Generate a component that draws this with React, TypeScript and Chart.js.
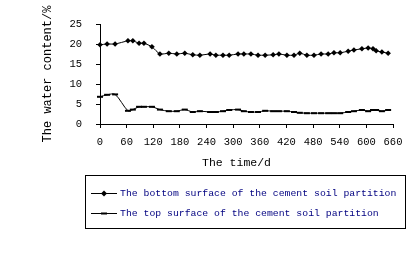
import React, { useEffect, useRef } from "react";
import { Chart, registerables } from "chart.js";

Chart.register(...registerables);

const days = [0, 16, 34, 63, 74, 88, 99, 117, 135, 155, 173, 191, 209, 225, 248, 261, 277, 291, 311, 324, 340, 356, 372, 390, 403, 421, 437, 450, 466, 482, 498, 514, 527, 541, 559, 572, 590, 604, 615, 622, 635, 649];
const bottomValues = [19.8, 20.0, 20.0, 20.8, 20.8, 20.2, 20.2, 19.3, 17.5, 17.7, 17.5, 17.7, 17.3, 17.2, 17.5, 17.2, 17.2, 17.2, 17.5, 17.5, 17.5, 17.2, 17.2, 17.3, 17.5, 17.2, 17.2, 17.7, 17.2, 17.2, 17.5, 17.5, 17.8, 17.8, 18.2, 18.5, 18.8, 19.0, 18.8, 18.3, 18.0, 17.7];
const topValues = [6.8, 7.3, 7.4, 3.3, 3.6, 4.3, 4.3, 4.3, 3.6, 3.2, 3.2, 3.6, 3.0, 3.2, 3.0, 3.0, 3.2, 3.5, 3.6, 3.2, 3.0, 3.0, 3.3, 3.2, 3.2, 3.2, 3.0, 2.8, 2.7, 2.7, 2.7, 2.7, 2.7, 2.7, 3.0, 3.2, 3.5, 3.2, 3.5, 3.5, 3.2, 3.5];
const seriesNames = [
  "The bottom surface of the cement soil partition",
  "The top surface of the cement soil partition",
];
const xTitle = "The time/d";
const yTitle = "The water content/%";

const MONO = "'Liberation Mono', 'DejaVu Sans Mono', monospace";

export default function App() {
  const ref = useRef<HTMLCanvasElement | null>(null);
  useEffect(() => {
    document.body.style.margin = "0";
    const canvas = ref.current!;
    const legendPlugin = {
      id: "boxLegend",
      afterDraw(chart: any) {
        const ctx = chart.ctx as CanvasRenderingContext2D;
        ctx.save();
        // x axis title (slightly left of centre, as in the reference)
        const ca = chart.chartArea;
        ctx.fillStyle = "#000";
        ctx.font = "11.5px " + MONO;
        ctx.textAlign = "center";
        ctx.textBaseline = "middle";
        ctx.fillText(xTitle, (ca.left + ca.right) / 2 - 10, ca.bottom + 39);

        ctx.strokeStyle = "#000";
        ctx.lineWidth = 1;
        ctx.strokeRect(85.5, 175.5, 320, 53);
        const rows = [193, 213];
        chart.data.datasets.forEach((ds: any, i: number) => {
          const y = rows[i] + 0.5;
          ctx.strokeStyle = "#000";
          ctx.lineWidth = 1;
          ctx.beginPath();
          ctx.moveTo(91, y);
          ctx.lineTo(117, y);
          ctx.stroke();
          ctx.fillStyle = "#000";
          if (i === 0) {
            ctx.beginPath();
            ctx.moveTo(104, y - 3);
            ctx.lineTo(107, y);
            ctx.lineTo(104, y + 3);
            ctx.lineTo(101, y);
            ctx.closePath();
            ctx.fill();
          } else {
            ctx.fillRect(101, y - 1, 6, 2);
          }
          ctx.fillStyle = "#000080";
          ctx.font = "9.8px " + MONO;
          ctx.textBaseline = "middle";
          ctx.textAlign = "left";
          ctx.fillText(ds.label, 120, y);
        });
        ctx.restore();
      },
    };
    const chart = new Chart(canvas, {
      type: "line",
      data: {
        datasets: [
          {
            label: seriesNames[0],
            data: days.map((d, i) => ({ x: d, y: bottomValues[i] })),
            borderColor: "#000",
            backgroundColor: "#000",
            borderWidth: 1,
            pointStyle: "rectRot",
            pointRadius: 2.8,
            pointBorderWidth: 0,
            tension: 0.2,
            clip: false as any,
          },
          {
            label: seriesNames[1],
            data: days.map((d, i) => ({ x: d, y: topValues[i] })),
            borderColor: "#000",
            backgroundColor: "#000",
            borderWidth: 1,
            pointStyle: "line",
            pointRadius: 3,
            pointBorderWidth: 2,
            tension: 0.3,
            clip: false as any,
          },
        ],
      },
      plugins: [legendPlugin],
      options: {
        animation: false,
        responsive: false,
        maintainAspectRatio: false,
        layout: { padding: { left: 41, top: 24, right: 18, bottom: 86 } },
        plugins: { legend: { display: false }, tooltip: { enabled: false } },
        scales: {
          x: {
            type: "linear",
            min: 0,
            max: 660,
            ticks: { stepSize: 60, color: "#000", font: { family: MONO, size: 10.5 }, padding: 8, maxRotation: 0 },
            grid: { drawOnChartArea: false, drawTicks: true, tickLength: 4, color: "#000" },
            border: { color: "#000" },
            title: { display: false },
            afterFit: (s: any) => { s.height = 47; },
          },
          y: {
            min: 0,
            max: 25,
            ticks: { stepSize: 5, color: "#000", font: { family: MONO, size: 10.5 }, padding: 14 },
            grid: { drawOnChartArea: false, drawTicks: true, tickLength: 4, color: "#000" },
            border: { color: "#000" },
            title: { display: true, text: yTitle, color: "#000", font: { family: MONO, size: 12 }, padding: 0 },
            afterFit: (s: any) => { s.width = 59; },
          },
        },
      },
    });
    return () => chart.destroy();
  }, []);
  return <canvas ref={ref} width={411} height={257} style={{ display: "block" }} />;
}
